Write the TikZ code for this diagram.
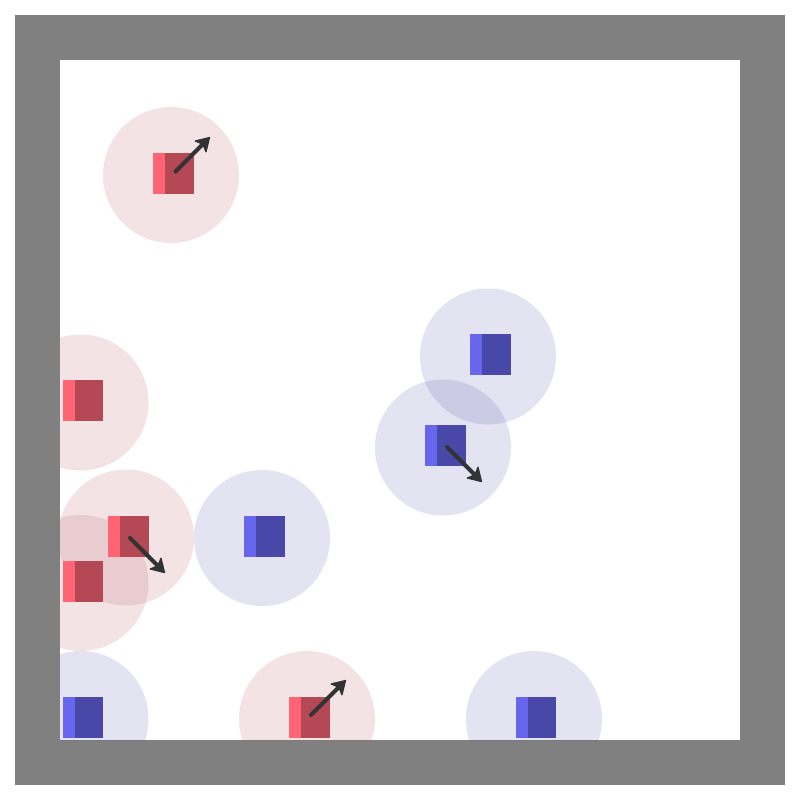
\documentclass[tikz,border=0pt]{standalone}
\usetikzlibrary{arrows.meta}
\definecolor{framegrey}{RGB}{128,128,128}
\definecolor{rdark}{RGB}{180,73,85}
\definecolor{rlight}{RGB}{255,100,117}
\definecolor{bdark}{RGB}{72,72,168}
\definecolor{blight}{RGB}{102,102,238}
\definecolor{arrgrey}{RGB}{51,51,51}
\tikzset{
  redzone/.style={fill=rdark,fill opacity=0.15},
  bluezone/.style={fill=bdark,fill opacity=0.15},
  heading/.style={draw=arrgrey,line width=2pt,line cap=round,-{Stealth[length=7.5pt,width=9pt,inset=1.8pt,line width=0.6pt,round]}},
  pics/redagent/.style={code={
    \fill[rlight] (0,0) rectangle (12,40.5);
    \fill[rdark] (12,0) rectangle (40.5,40.5);
  }},
  pics/blueagent/.style={code={
    \fill[blight] (0,0) rectangle (12,40.5);
    \fill[bdark] (12,0) rectangle (40.5,40.5);
  }}
}
\begin{document}
\begin{tikzpicture}[x=0.5pt,y=-0.5pt]
\useasboundingbox (0,0) rectangle (800,800);
\fill[framegrey] (15,15) rectangle (785,785);
\fill[white] (60,60) rectangle (740,740);
\begin{scope}
  \clip (60,60) rectangle (740,740);
  \fill[redzone] (171,175) circle (68);
  \fill[redzone] (80.5,402.5) circle (68);
  \fill[redzone] (126,537.5) circle (68);
  \fill[redzone] (80.5,583) circle (68);
  \fill[redzone] (307,719) circle (68);
  \fill[bluezone] (488,356.5) circle (68);
  \fill[bluezone] (443,447.5) circle (68);
  \fill[bluezone] (262,538) circle (68);
  \fill[bluezone] (80.5,719) circle (68);
  \fill[bluezone] (534,719) circle (68);
\end{scope}
\pic at (153,153) {redagent};
\pic at (62.5,380) {redagent};
\pic at (108,516) {redagent};
\pic at (62.5,561) {redagent};
\pic at (289,697) {redagent};
\pic at (470,334) {blueagent};
\pic at (425,425) {blueagent};
\pic at (244,516) {blueagent};
\pic at (62.5,697) {blueagent};
\pic at (515.5,697) {blueagent};
\coordinate (a1s) at (175.5,171.5); \coordinate (a1e) at (210,137);
\coordinate (a3s) at (130,538); \coordinate (a3e) at (165,573);
\coordinate (a5s) at (311,715); \coordinate (a5e) at (346,680);
\coordinate (a7s) at (447,447); \coordinate (a7e) at (482,482);
\draw[heading] (a1s) -- (a1e);
\draw[heading] (a3s) -- (a3e);
\draw[heading] (a5s) -- (a5e);
\draw[heading] (a7s) -- (a7e);
\end{tikzpicture}
\end{document}
